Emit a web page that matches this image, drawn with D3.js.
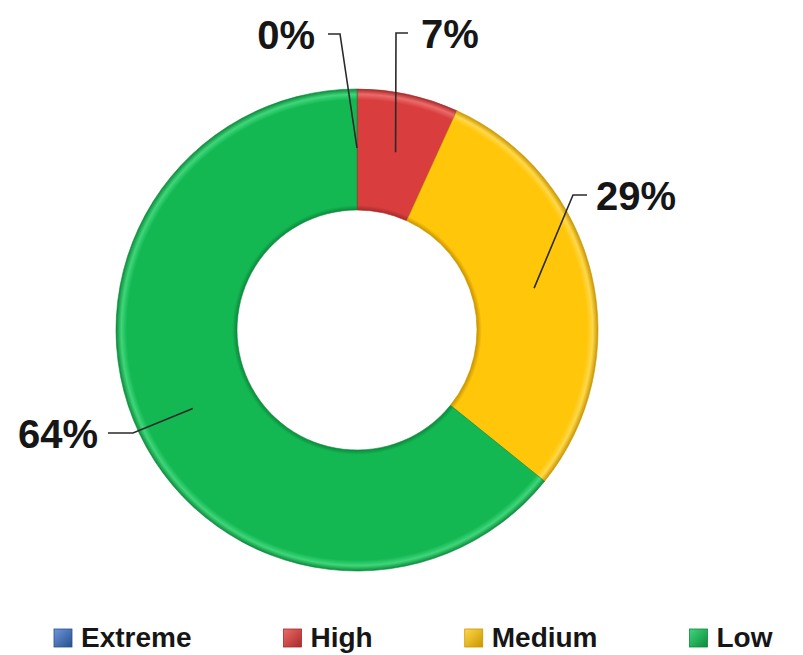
<!DOCTYPE html>
<html>
<head>
<meta charset="utf-8">
<script src="https://cdn.jsdelivr.net/npm/d3@7"></script>
<style>
  html, body { margin: 0; padding: 0; background: #ffffff; }
  svg { display: block; }
  text { font-family: "Liberation Sans", Arial, sans-serif; font-weight: bold; fill: #161616; }
</style>
</head>
<body>
<svg id="chart" width="803" height="655"></svg>
<script>
// ---- data ----
const categories = ["Extreme", "High", "Medium", "Low"];
const values = [0, 6.8, 29.0, 64.2];
const labels = ["0%", "7%", "29%", "64%"];

// ---- layout / style (not data) ----
const colors = ["#3a6cc0", "#d93d3d", "#ffc60a", "#13b853"];
const darker = ["#28508f", "#a82a2a", "#c99600", "#0c8a3c"];
const lighter = ["#6d95d8", "#ec6a6a", "#ffd84a", "#3fd679"];
// label knee positions and text anchors for the leader lines
const labelLayout = [
  { kx: 340, ky: 34, hx: 328, tx: 315, anchor: "end" },
  { kx: 396, ky: 33, hx: 408, tx: 421, anchor: "start" },
  { kx: 573, ky: 195, hx: 587, tx: 596, anchor: "start" },
  { kx: 133, ky: 433, hx: 108, tx: 98, anchor: "end" }
];

const svg = d3.select("#chart");
const cx = 357, cy = 330, rOuter = 241, rInner = 120;

const pie = d3.pie().sort(null).value(d => d).startAngle(0).endAngle(2 * Math.PI);
const arcs = pie(values);
const arc = d3.arc().innerRadius(rInner).outerRadius(rOuter);
const labelArc = d3.arc().innerRadius(182).outerRadius(182);

const defs = svg.append("defs");
colors.forEach((c, i) => {
  const g = defs.append("radialGradient")
    .attr("id", "grad" + i)
    .attr("gradientUnits", "userSpaceOnUse")
    .attr("cx", 0).attr("cy", 0).attr("r", rOuter).attr("fx", 0).attr("fy", 0);
  const f = rInner / rOuter;
  g.append("stop").attr("offset", f).attr("stop-color", darker[i]);
  g.append("stop").attr("offset", f + 0.02).attr("stop-color", c);
  g.append("stop").attr("offset", 0.955).attr("stop-color", c);
  g.append("stop").attr("offset", 0.978).attr("stop-color", lighter[i]);
  g.append("stop").attr("offset", 1).attr("stop-color", darker[i]);

  const lg = defs.append("linearGradient")
    .attr("id", "lg" + i).attr("x1", 0).attr("y1", 0).attr("x2", 1).attr("y2", 1);
  lg.append("stop").attr("offset", 0).attr("stop-color", lighter[i]);
  lg.append("stop").attr("offset", 1).attr("stop-color", darker[i]);
});

const g = svg.append("g").attr("transform", `translate(${cx},${cy})`);

g.selectAll("path.slice")
  .data(arcs)
  .join("path")
  .attr("class", "slice")
  .attr("d", arc)
  .attr("fill", (d, i) => `url(#grad${i})`)
  .attr("stroke", (d, i) => d.value > 0 ? darker[i] : "none")
  .attr("stroke-width", 1)
  .attr("stroke-opacity", 0.6);

// leader lines
arcs.forEach((d, i) => {
  const [px, py] = labelArc.centroid(d);
  const L = labelLayout[i];
  svg.append("polyline")
    .attr("points", [[cx + px, cy + py], [L.kx, L.ky], [L.hx, L.ky]].map(p => p.join(",")).join(" "))
    .attr("fill", "none")
    .attr("stroke", "#2a2a2a")
    .attr("stroke-width", 1.6);
  svg.append("text")
    .attr("x", L.tx)
    .attr("y", L.ky + 15)
    .attr("text-anchor", L.anchor)
    .attr("font-size", 40)
    .text(labels[i]);
});

// legend
const legend = svg.append("g");
let x = 54;
const ly = 638;
categories.forEach((c, i) => {
  legend.append("rect")
    .attr("x", x).attr("y", ly - 9).attr("width", 18).attr("height", 18)
    .attr("fill", `url(#lg${i})`)
    .attr("stroke", darker[i]).attr("stroke-width", 0.8);
  const t = legend.append("text")
    .attr("x", x + 27).attr("y", ly + 9)
    .attr("font-size", 28)
    .text(c);
  const w = t.node().getComputedTextLength();
  x = x + 27 + w + 92;
});
</script>
</body>
</html>
